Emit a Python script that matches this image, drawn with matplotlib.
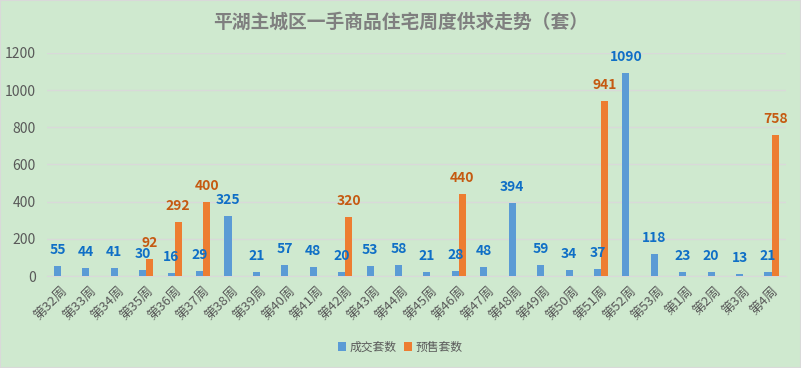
import matplotlib
matplotlib.use("Agg")
import matplotlib.pyplot as plt
import numpy as np

plt.rcParams['font.family'] = ['Noto Sans CJK SC', 'DejaVu Sans']

title = "平湖主城区一手商品住宅周度供求走势（套）"
weeks = ["第32周", "第33周", "第34周", "第35周", "第36周", "第37周", "第38周", "第39周",
         "第40周", "第41周", "第42周", "第43周", "第44周", "第45周", "第46周", "第47周",
         "第48周", "第49周", "第50周", "第51周", "第52周", "第53周", "第1周", "第2周",
         "第3周", "第4周"]
sold = [55, 44, 41, 30, 16, 29, 325, 21, 57, 48, 20, 53, 58, 21, 28, 48,
        394, 59, 34, 37, 1090, 118, 23, 20, 13, 21]
presale = [0, 0, 0, 92, 292, 400, 0, 0, 0, 0, 320, 0, 0, 0, 440, 0,
           0, 0, 0, 941, 0, 0, 0, 0, 0, 758]
series_names = ["成交套数", "预售套数"]
yticks = [0, 200, 400, 600, 800, 1000, 1200]

bg = "#cfe9cf"
c_blue = "#5b9bd5"
c_orange = "#ed7d31"
lab_blue = "#0f6fc6"
lab_orange = "#c55a11"
grey = "#595959"

fig = plt.figure(figsize=(8.01, 3.68), dpi=100, facecolor=bg)
ax = fig.add_axes([0.0584, 0.25, 0.9226, 0.606], facecolor=bg)

x = np.arange(len(weeks))
w = 0.25
b1 = ax.bar(x - w / 2, sold, w, color=c_blue, label=series_names[0], zorder=3)
b2 = ax.bar(x + w / 2, presale, w, color=c_orange, label=series_names[1], zorder=3)

for xi, v in zip(x, sold):
    if v:
        ax.annotate(str(v), (xi - w / 2, v), xytext=(0, 11.5), textcoords="offset points",
                    ha="center", va="center", fontsize=10, fontweight="bold", color=lab_blue)
for xi, v in zip(x, presale):
    if v:
        ax.annotate(str(v), (xi + w / 2, v), xytext=(0, 11.5), textcoords="offset points",
                    ha="center", va="center", fontsize=10, fontweight="bold", color=lab_orange)

ax.set_xlim(-0.5, len(weeks) - 0.5)
ax.set_ylim(0, 1200)
ax.set_yticks(yticks)
ax.set_yticklabels([str(t) for t in yticks], fontsize=10, color=grey)
ax.set_xticks(x)
ax.set_xticklabels(weeks, rotation=45, ha="right", va="top", rotation_mode="anchor",
                   fontsize=9.5, color=grey)
ax.tick_params(axis="both", length=0)
ax.tick_params(axis="x", pad=6)
ax.tick_params(axis="y", pad=8)
ax.grid(axis="y", color="#d9d9d9", linewidth=1, zorder=0)
for s in ["top", "right", "left"]:
    ax.spines[s].set_visible(False)
ax.spines["bottom"].set_color("#d9d9d9")

fig.text(0.5, 1 - 22 / 368, title, ha="center", va="center", fontsize=13.5,
         fontweight="bold", color="#7f7f7f")

leg = fig.legend(handles=[b1, b2], labels=series_names, loc="center",
                 bbox_to_anchor=(0.5, 1 - 347 / 368), ncol=2, frameon=False,
                 fontsize=8.5, handlelength=0.7, handleheight=0.7, handletextpad=0.3,
                 columnspacing=0.6)
for t in leg.get_texts():
    t.set_color(grey)

fig.patches.append(plt.Rectangle((0, 0), 1, 1, transform=fig.transFigure, fill=False,
                                 edgecolor="#d9d9d9", linewidth=1.5))

fig.savefig("out.png", dpi=100, facecolor=bg)
